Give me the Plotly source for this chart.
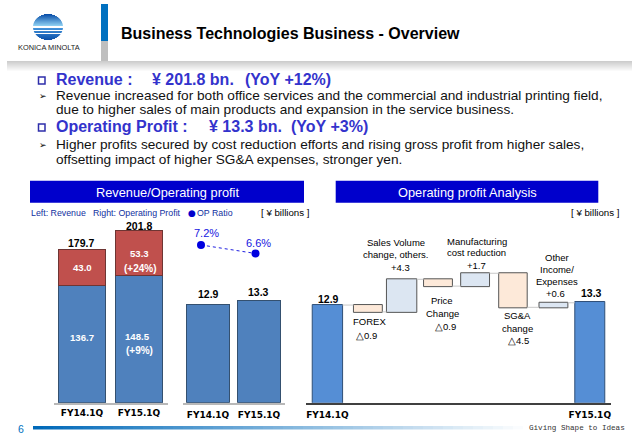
import math
import plotly.graph_objects as go

W, H = 640, 443
SANS = "Liberation Sans"
WIDE = "DejaVu Sans"
HEAD_BLUE = "#3333CC"
BAR_BLUE = "#4F81BD"
BAR_RED = "#C0504D"
BAND_BLUE = "#0000CC"

# revenue / operating profit
periods = ["FY14.1Q", "FY15.1Q"]
rev_lower = [136.7, 148.5]
rev_upper = [43.0, 53.3]
rev_total = [179.7, 201.8]
op_profit = [12.9, 13.3]
op_ratio = [7.2, 6.6]

# waterfall
wf_names = ["FY14.1Q", "FOREX", "Sales Volume", "Price", "Manufacturing", "SG&A", "Other", "FY15.1Q"]
wf_values = [12.9, -0.9, 4.3, -0.9, 1.7, -4.5, 0.6, 13.3]
wf_measure = ["absolute", "relative", "relative", "relative", "relative", "relative", "relative", "absolute"]

BASE = 402.7


def px(x):
    return x / W


def py(y):
    return 1 - y / H


def txt(x, y, s, size=10, color="black", bold=False, anchor="center", font=SANS):
    if bold:
        s = "<b>" + s + "</b>"
    return dict(x=px(x), y=py(y), xref="paper", yref="paper", text=s, showarrow=False,
                xanchor=anchor, yanchor="middle", align=anchor, borderpad=0,
                font=dict(size=size, color=color, family=font))


def box(x0, y0, x1, y1, fill, line=None, kind="rect", lw=1):
    return dict(type=kind, xref="paper", yref="paper", x0=px(x0), x1=px(x1), y0=py(y0), y1=py(y1),
                fillcolor=fill, line=dict(color=line or fill, width=lw if line else 0), layer="below")


def mix(a, b, t):
    return "rgb(%d,%d,%d)" % tuple(round(a[i] + (b[i] - a[i]) * t) for i in range(3))


def y_axis(scale, top=215):
    return dict(domain=[py(BASE), py(top)], range=[0, (BASE - top) / scale], visible=False, fixedrange=True)


def x_axis(x0, x1, line, rng=None, tickvals=None, ticktext=None, ticklen=3):
    d = dict(domain=[px(x0), px(x1)], showline=True, linecolor=line, linewidth=1.5, showgrid=False,
             zeroline=False, ticks="outside", ticklen=ticklen, tickcolor="rgba(0,0,0,0)",
             tickfont=dict(family=WIDE, size=9, color="black", weight="bold"), type="category", fixedrange=True)
    if rng:
        d["range"] = rng
    if tickvals:
        d["tickmode"] = "array"
        d["tickvals"] = tickvals
        d["ticktext"] = ticktext
    return d


fig = go.Figure()

# stacked revenue
fig.add_bar(x=periods, y=rev_lower, marker=dict(color=BAR_BLUE, line=dict(color="#34506f", width=1)),
            xaxis="x", yaxis="y", width=0.84)
fig.add_bar(x=periods, y=rev_upper, marker=dict(color=BAR_RED, line=dict(color="#6e3533", width=1)),
            xaxis="x", yaxis="y", width=0.84)

# operating profit
fig.add_bar(x=periods, y=op_profit, marker=dict(color=BAR_BLUE, line=dict(color="#34506f", width=1)),
            xaxis="x2", yaxis="y2", width=0.83)

# op ratio
fig.add_scatter(x=periods, y=op_ratio, mode="lines+markers", xaxis="x3", yaxis="y3",
                line=dict(color="#2020E0", width=1, dash="dot"),
                marker=dict(color="#0000E0", size=8))

# waterfall
wf_width = [0.81, 0.77, 0.81, 0.77, 0.77, 0.76, 0.77, 0.8]
wf_nudge = [0.0, 0.08, -0.02, -0.05, -0.06, -0.05, 0.03, 0.0]
fig.add_waterfall(x=wf_names, y=wf_values, measure=wf_measure, xaxis="x4", yaxis="y4",
                  width=wf_width,
                  offset=[n - w / 2 for n, w in zip(wf_nudge, wf_width)],
                  totals=dict(marker=dict(color="#558ED5", line=dict(color="#2f4f77", width=1))),
                  increasing=dict(marker=dict(color="#DCE6F2", line=dict(color="#555555", width=1))),
                  decreasing=dict(marker=dict(color="#FDE9D9", line=dict(color="#555555", width=1))),
                  connector=dict(line=dict(color="#c8c8c8", width=1)))

shapes = []

# header bar and shadow
shapes.append(box(101, 4, 108, 41, "#0070C0"))
shapes.append(box(101, 41, 108, 61, "#BFBFBF"))
for i in range(11):
    shapes.append(box(7, 61 + i, 632, 62 + i, mix((205, 205, 205), (255, 255, 255), i / 10)))

# logo, sliced so the bands follow the globe
for i in range(26):
    dy = (i + 0.5 - 13) / 13
    hw = 15 * math.sqrt(1 - dy * dy)
    if i in (12, 13, 16, 19):
        c = "#ffffff"
    elif i < 12:
        c = mix((10, 80, 170), (140, 205, 240), i / 11)
    else:
        c = mix((70, 150, 220), (10, 80, 170), (i - 13) / 12)
    shapes.append(box(48 - hw, 14 + i, 48 + hw, 15 + i, c))

# bullets
shapes.append(box(38.5, 77, 45, 84, "white", "#2E2EAA", lw=1.5))
shapes.append(box(38.5, 124, 45, 131, "white", "#2E2EAA", lw=1.5))

# section bands
shapes.append(box(30, 180.7, 304, 202.7, BAND_BLUE))
shapes.append(box(335.7, 180.7, 598.3, 202.7, BAND_BLUE))

# bottom rule
for i in range(50):
    x0 = 33 + i * 10
    shapes.append(box(x0, 426, x0 + 10, 429.5, mix((0, 105, 185), (255, 255, 255), i / 49)))

notes = [
    txt(120, 33, "Business Technologies Business - Overview", 16, bold=True, anchor="left"),
    txt(49, 47.5, "KONICA MINOLTA", 7.4, color="#222222"),
    txt(55, 80, "Revenue :", 16, HEAD_BLUE, True, "left"),
    txt(151, 80, "¥ 201.8 bn.", 16, HEAD_BLUE, True, "left"),
    txt(244, 80, "(YoY +12%)", 16, HEAD_BLUE, True, "left"),
    txt(55, 127, "Operating Profit :", 16, HEAD_BLUE, True, "left"),
    txt(208, 127, "¥ 13.3 bn.", 16, HEAD_BLUE, True, "left"),
    txt(290, 127, "(YoY +3%)", 16, HEAD_BLUE, True, "left"),
    txt(38, 96, "➢", 9, anchor="left", font=WIDE),
    txt(38, 145, "➢", 9, anchor="left", font=WIDE),
    txt(55, 95, "Revenue increased for both office services and the commercial and industrial printing field,", 13.65, "#111111", anchor="left"),
    txt(55, 109, "due to higher sales of main products and expansion in the service business.", 13.65, "#111111", anchor="left"),
    txt(55, 144, "Higher profits secured by cost reduction efforts and rising gross profit from higher sales,", 13.65, "#111111", anchor="left"),
    txt(55, 159, "offsetting impact of higher SG&A expenses, stronger yen.", 13.65, "#111111", anchor="left"),
    txt(167, 192, "Revenue/Operating profit", 12.8, "white"),
    txt(467, 192, "Operating profit Analysis", 12.8, "white"),
    txt(30, 213, "Left: Revenue", 8.8, "#1030A0", anchor="left"),
    txt(92, 213, "Right: Operating Profit", 8.8, "#1030A0", anchor="left"),
    txt(187, 213, "●", 9, "#0000CC", anchor="left", font=WIDE),
    txt(196, 213, "OP Ratio", 8.8, "#1030A0", anchor="left"),
    txt(260, 213, "[ ¥ billions ]", 9.7, anchor="left"),
    txt(570, 213, "[ ¥ billions ]", 9.7, anchor="left"),
    txt(21, 429, "6", 10.5, "#0070C0"),
    txt(577, 427.5, "Giving Shape to Ideas", 7.6, "#333333", font="Liberation Mono"),
    # revenue labels
    txt(81, 243, f"{rev_total[0]:.1f}", 10.5, bold=True),
    txt(139, 226, f"{rev_total[1]:.1f}", 10.5, bold=True),
    txt(82, 267, f"{rev_upper[0]:.1f}", 9.6, "white", True),
    txt(139, 253, f"{rev_upper[1]:.1f}", 9.6, "white", True),
    txt(140, 268, "(+24%)", 10, "white", True),
    txt(82, 337.5, f"{rev_lower[0]:.1f}", 9.6, "white", True),
    txt(137, 336, f"{rev_lower[1]:.1f}", 9.6, "white", True),
    txt(139, 350, "(+9%)", 10, "white", True),
    # op profit labels
    txt(208, 294, f"{op_profit[0]:.1f}", 10.5, bold=True),
    txt(258, 292, f"{op_profit[1]:.1f}", 10.5, bold=True),
    txt(206, 233, f"{op_ratio[0]:.1f}%", 11, "#1515E0"),
    txt(258, 243, f"{op_ratio[1]:.1f}%", 11, "#1515E0"),
    # waterfall labels
    txt(328, 299, f"{wf_values[0]:.1f}", 10.5, bold=True),
    txt(591, 293, f"{wf_values[7]:.1f}", 10.5, bold=True),
    txt(396, 242.7, "Sales Volume", 9.5),
    txt(395.7, 254, "change, others.", 9.5),
    txt(400.5, 267.5, "+4.3", 9.5),
    txt(476.7, 241.7, "Manufacturing", 9.5),
    txt(476.7, 252.7, "cost reduction", 9.5),
    txt(476, 265.5, "+1.7", 9.5),
    txt(442, 300, "Price", 9.5),
    txt(442, 313, "Change", 9.5),
    txt(445, 326.5, "△0.9", 9.5),
    txt(369, 321.7, "FOREX", 9.5),
    txt(366, 335.7, "△0.9", 9.5),
    txt(517, 315.7, "SG&A", 9.5),
    txt(517, 328, "change", 9.5),
    txt(518, 340, "△4.5", 9.5),
    txt(557, 257.7, "Other", 9.5),
    txt(557, 269, "Income/", 9.5),
    txt(557, 281, "Expenses", 9.5),
    txt(555.7, 293.7, "+0.6", 9.5),
]

fig.update_layout(
    width=W, height=H, autosize=False, showlegend=False, barmode="stack",
    margin=dict(l=0, r=0, t=0, b=0),
    paper_bgcolor="white", plot_bgcolor="rgba(0,0,0,0)",
    shapes=shapes, annotations=notes,
    xaxis=x_axis(53.5, 167.5, "#b8b8b8", ticklen=1),
    yaxis=y_axis(0.855),
    xaxis2=x_axis(182.5, 284.5, "#b8b8b8", ticklen=3),
    yaxis2=y_axis(7.65),
    xaxis3=dict(domain=[px(173.75), px(282.75)], visible=False, type="category", range=[-0.5, 1.5], fixedrange=True),
    yaxis3=dict(domain=[py(262), py(233.6)], range=[6, 8], visible=False, fixedrange=True),
    xaxis4=x_axis(306, 611, "#404040", rng=[-0.571, 7.566], tickvals=[wf_names[0], wf_names[7]],
                  ticktext=[periods[0], periods[1]], ticklen=3),
    yaxis4=y_axis(7.57),
)

# the page's default body margin would push the figure 8px in
fig.write_html("out.html", config={"displayModeBar": False}, post_script="document.body.style.margin='0';")
